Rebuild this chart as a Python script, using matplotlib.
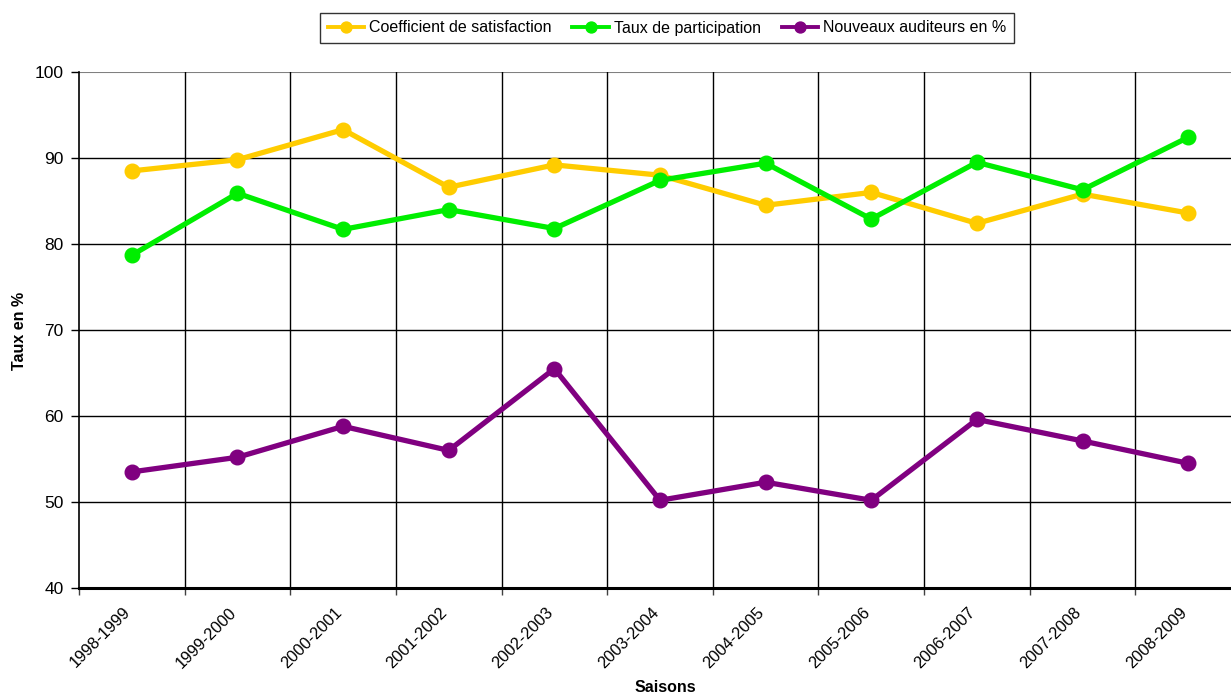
import matplotlib
matplotlib.use("Agg")
import matplotlib.pyplot as plt
import matplotlib.transforms as mtransforms
import numpy as np

seasons = ["1998-1999", "1999-2000", "2000-2001", "2001-2002", "2002-2003",
           "2003-2004", "2004-2005", "2005-2006", "2006-2007", "2007-2008", "2008-2009"]
satisfaction = [88.5, 89.8, 93.3, 86.6, 89.2, 88.0, 84.5, 86.0, 82.4, 85.8, 83.6]
participation = [78.7, 85.9, 81.7, 84.0, 81.8, 87.4, 89.4, 82.9, 89.5, 86.3, 92.4]
nouveaux = [53.5, 55.2, 58.8, 56.0, 65.5, 50.2, 52.3, 50.2, 59.6, 57.1, 54.5]
yticks = [40, 50, 60, 70, 80, 90, 100]

plt.rcParams['font.family'] = ['Liberation Sans', 'DejaVu Sans']

fig = plt.figure(figsize=(12.31, 6.96), dpi=100)
W, H = 1231, 696
ax = fig.add_axes([79 / W, (H - 588) / H, 1162 / W, 516 / H])

x = np.arange(len(seasons))
series = [
    (satisfaction, "#FFCC00", "Coefficient de satisfaction"),
    (participation, "#00EE00", "Taux de participation"),
    (nouveaux, "#800080", "Nouveaux auditeurs en %"),
]
for vals, col, lab in series:
    ax.plot(x, vals, color=col, lw=3.8, marker="o", ms=10.5, label=lab,
            solid_joinstyle="round", zorder=3)

ax.set_xlim(-0.5, len(seasons) - 0.5)
ax.set_ylim(40, 100)
ax.set_yticks(yticks)
ax.set_yticklabels([str(v) for v in yticks], fontsize=12.5)
ax.set_xticks(x)
ax.set_xticklabels(seasons, rotation=45, ha="right", rotation_mode="anchor", fontsize=11.8)
ax.tick_params(axis="x", which="major", length=0, pad=12)
offset = mtransforms.ScaledTranslation(-9 / 100, 0, fig.dpi_scale_trans)
for lbl in ax.get_xticklabels():
    lbl.set_transform(lbl.get_transform() + offset)
ax.set_xticks(np.arange(-0.5, len(seasons), 1.0), minor=True)
ax.tick_params(axis="x", which="minor", length=5, width=1, color="#404040")
ax.tick_params(axis="y", length=6, width=1, pad=5)

for v in yticks[1:-1]:
    ax.axhline(v, color="black", lw=1, zorder=1)
ax.axhline(100, color="#808080", lw=1.5, zorder=1)
for b in np.arange(0.5, len(seasons) - 0.5, 1.0):
    ax.axvline(b, color="black", lw=1, zorder=1)

ax.spines["top"].set_visible(False)
ax.spines["right"].set_visible(False)
ax.spines["bottom"].set_linewidth(2.2)
ax.spines["left"].set_linewidth(1.2)

fig.text(20 / W, 1 - 331 / H, "Taux en %", fontsize=11.5, fontweight="bold",
         ha="center", va="center", rotation=90)
fig.text(665 / W, 1 - 688 / H, "Saisons", fontsize=11.5, fontweight="bold",
         ha="center", va="center")

leg = fig.legend(loc="center", bbox_to_anchor=(667 / W, 1 - 28 / H), ncol=3,
                 frameon=True, fancybox=False, fontsize=11.5, handlelength=2.3,
                 columnspacing=1.3, handletextpad=0.3, borderpad=0.5,
                 markerscale=0.75)
leg.get_frame().set_edgecolor("black")
leg.get_frame().set_linewidth(1)
for ln in leg.get_lines():
    ln.set_linewidth(2.8)

fig.savefig("out.png", dpi=100)
